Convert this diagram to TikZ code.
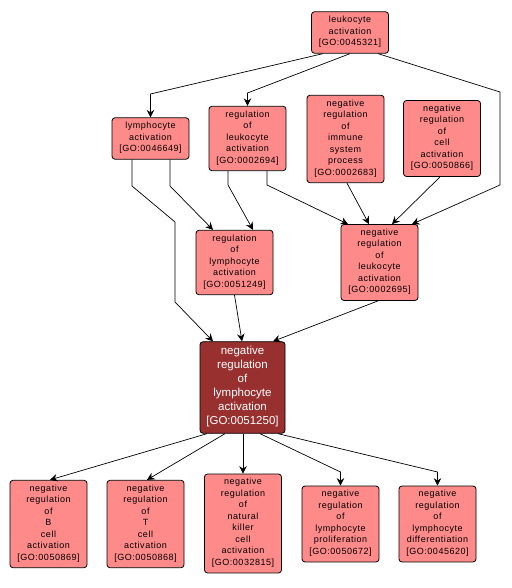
\documentclass[tikz,border=0pt]{standalone}
\usepackage{fontspec}
\usetikzlibrary{arrows.meta}
\newfontfamily\gofont{Liberation Sans}[LetterSpace=6]
\newfontfamily\gomainfont{Liberation Sans}
\definecolor{termfill}{RGB}{255,138,138}
\definecolor{queryfill}{RGB}{153,48,48}
\tikzset{
  term/.style={draw=black, fill=termfill, rounded corners=3pt, line width=0.8pt,
    minimum width=77pt, inner xsep=3pt, inner ysep=4.25pt, align=center,
    font=\gofont\fontsize{9}{11.5}\selectfont,
    execute at begin node=\strut, execute at end node=\strut},
  query/.style={term, fill=queryfill, text=white, minimum width=85pt, inner ysep=4.5pt,
    font=\gomainfont\fontsize{11.5}{14}\selectfont},
  isa/.style={line width=0.7pt, -{Stealth[length=7.5pt,width=7.5pt,inset=2.5pt]}}
}
\begin{document}
\begin{tikzpicture}[x=1pt, y=-1pt]
    \useasboundingbox[fill=white] (0,0) rectangle (511,588);
    % Draw terms
    \node[term] (leuk) at (350,32.5) {leukocyte\\activation\\{[GO:0045321]}};
    \node[term] (lymact) at (150.5,138.5) {lymphocyte\\activation\\{[GO:0046649]}};
    \node[term] (regleuk) at (247.5,138.5) {regulation\\of\\leukocyte\\activation\\{[GO:0002694]}};
    \node[term] (nrimm) at (345.5,139) {negative\\regulation\\of\\immune\\system\\process\\{[GO:0002683]}};
    \node[term] (nrcell) at (442,138.5) {negative\\regulation\\of\\cell\\activation\\{[GO:0050866]}};
    \node[term] (reglym) at (234.5,262.5) {regulation\\of\\lymphocyte\\activation\\{[GO:0051249]}};
    \node[term] (nrleuk) at (379.5,262.5) {negative\\regulation\\of\\leukocyte\\activation\\{[GO:0002695]}};
    \node[query] (main) at (242.5,387.5) {negative\\regulation\\of\\lymphocyte\\activation\\{[GO:0051250]}};
    \node[term] (nrB) at (48.5,524) {negative\\regulation\\of\\B\\cell\\activation\\{[GO:0050869]}};
    \node[term] (nrT) at (145.5,524) {negative\\regulation\\of\\T\\cell\\activation\\{[GO:0050868]}};
    \node[term] (nrNK) at (243,523.5) {negative\\regulation\\of\\natural\\killer\\cell\\activation\\{[GO:0032815]}};
    \node[term] (nrprol) at (340.5,524) {negative\\regulation\\of\\lymphocyte\\proliferation\\{[GO:0050672]}};
    \node[term] (nrdiff) at (437.5,524) {negative\\regulation\\of\\lymphocyte\\differentiation\\{[GO:0045620]}};

    % Draw is_a edges
    \draw[isa] ([xshift=-27pt]leuk.south) -- (150.5,94) -- (lymact.north);
    \draw[isa] (leuk.south) -- (247.5,93) -- (regleuk.north);
    \draw[isa] ([xshift=28pt]leuk.south) -- (500,92) -- (500,185) -- ([xshift=32.5pt]nrleuk.north);
    \draw[isa] ([xshift=-18.5pt]lymact.south) -- (132,186) -- (175,222) -- (175,302) -- ([xshift=-29.5pt]main.north);
    \draw[isa] ([xshift=19.5pt]lymact.south) -- (170,186) -- ([xshift=-21.5pt]reglym.north);
    \draw[isa] ([xshift=-19.5pt]regleuk.south) -- (228,185) -- ([xshift=18.5pt]reglym.north);
    \draw[isa] ([xshift=19.5pt]regleuk.south) -- (267,185) -- ([xshift=-31.5pt]nrleuk.north);
    \draw[isa] ([xshift=1.5pt]nrimm.south) -- ([xshift=-10.5pt]nrleuk.north);
    \draw[isa] ([xshift=-2pt]nrcell.south) -- ([xshift=12.5pt]nrleuk.north);
    \draw[isa] (reglym.south) -- ([xshift=-0.5pt]main.north);
    \draw[isa] ([xshift=-1.5pt]nrleuk.south) -- ([xshift=30.5pt]main.north);
    \draw[isa] ([xshift=-35.5pt]main.south) -- ([xshift=1.5pt]nrB.north);
    \draw[isa] ([xshift=-17.5pt]main.south) -- ([xshift=1.5pt]nrT.north);
    \draw[isa] ([xshift=0.5pt]main.south) -- (nrNK.north);
    \draw[isa] ([xshift=17.5pt]main.south) -- (340.5,472) -- (nrprol.north);
    \draw[isa] ([xshift=35.5pt]main.south) -- (437.5,472) -- (nrdiff.north);
\end{tikzpicture}
\end{document}
